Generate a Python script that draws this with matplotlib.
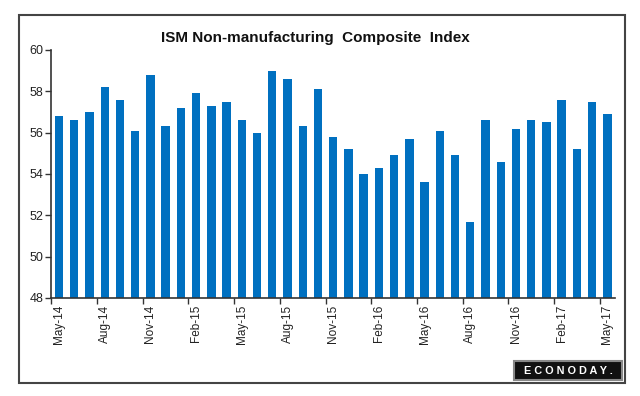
import numpy as np
import matplotlib.pyplot as plt
from matplotlib.patches import Rectangle

plt.rcParams['font.family'] = ['Liberation Sans', 'DejaVu Sans']

months = ['May-14', 'Jun-14', 'Jul-14', 'Aug-14', 'Sep-14', 'Oct-14', 'Nov-14', 'Dec-14',
          'Jan-15', 'Feb-15', 'Mar-15', 'Apr-15', 'May-15', 'Jun-15', 'Jul-15', 'Aug-15',
          'Sep-15', 'Oct-15', 'Nov-15', 'Dec-15', 'Jan-16', 'Feb-16', 'Mar-16', 'Apr-16',
          'May-16', 'Jun-16', 'Jul-16', 'Aug-16', 'Sep-16', 'Oct-16', 'Nov-16', 'Dec-16',
          'Jan-17', 'Feb-17', 'Mar-17', 'Apr-17', 'May-17']
values = [56.8, 56.6, 57.0, 58.2, 57.6, 56.1, 58.8, 56.3,
          57.2, 57.9, 57.3, 57.5, 56.6, 56.0, 59.0, 58.6,
          56.3, 58.1, 55.8, 55.2, 54.0, 54.3, 54.9, 55.7,
          53.6, 56.1, 54.9, 51.7, 56.6, 54.6, 56.2, 56.6,
          56.5, 57.6, 55.2, 57.5, 56.9]
yticks = [48, 50, 52, 54, 56, 58, 60]

fig = plt.figure(figsize=(6.4, 3.96), dpi=100)
ax = fig.add_axes([51.4 / 640, 1 - 298 / 396, (615 - 51.4) / 640, 248 / 396])

x = np.arange(len(values))
ax.bar(x, values, width=0.55, color='#0070C0', bottom=0)
ax.set_ylim(48, 60)
ax.set_xlim(-0.5, len(values) - 0.5)

ax.set_yticks(yticks)
ax.set_yticklabels([str(v) for v in yticks], fontsize=9, color='#222222')

# ticks between categories, labels centred on every third category
ax.set_xticks(x[::3] - 0.5)
ax.set_xticklabels([])
ax.set_xticks(x[::3], minor=True)
ax.set_xticklabels([months[i] for i in x[::3]], minor=True, rotation=90,
                   fontsize=8.5, color='#222222')
ax.tick_params(axis='x', which='minor', length=0, pad=5)
ax.tick_params(axis='x', which='major', length=4, width=1, color='#333333')
ax.tick_params(axis='y', length=4, width=1, color='#333333', pad=2)

for s in ['top', 'right']:
    ax.spines[s].set_visible(False)
for s in ['left', 'bottom']:
    ax.spines[s].set_color('#333333')
    ax.spines[s].set_linewidth(1.2)

fig.text(315 / 640, 1 - 38 / 396, 'ISM Non-manufacturing  Composite  Index',
         ha='center', va='center', fontsize=11, fontweight='bold', color='#111111')

# outer frame
fig.patches.append(Rectangle((19 / 640, 1 - 383 / 396), 606 / 640, 368 / 396,
                             transform=fig.transFigure, fill=False,
                             edgecolor='#444444', linewidth=1.5))

# logo box
fig.patches.append(Rectangle((514 / 640, 1 - 380 / 396), 108 / 640, 19 / 396,
                             transform=fig.transFigure, facecolor='#111111',
                             edgecolor='#888888', linewidth=1.5))
fig.text(568 / 640, 1 - 370.5 / 396, 'E C O N O D A Y .', ha='center', va='center',
         fontsize=7.8, fontweight='bold', color='white')

fig.savefig('out.png', dpi=100)
